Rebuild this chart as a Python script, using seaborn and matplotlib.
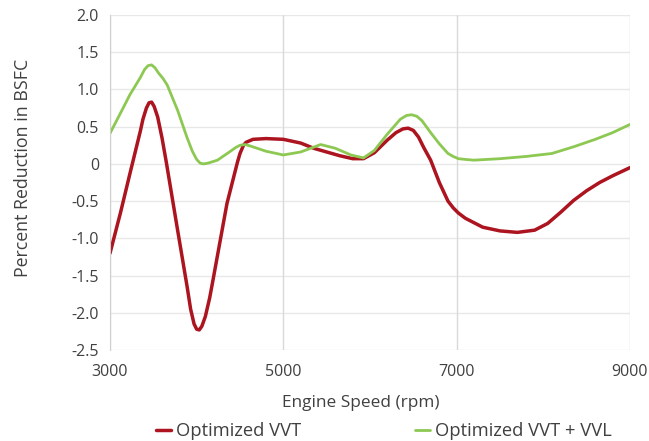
import pandas as pd
import matplotlib.pyplot as plt
import seaborn as sns

# values
vvt_rpm = [3000, 3120, 3230, 3350, 3380, 3420, 3450, 3480, 3510, 3550, 3600, 3650,
           3770, 3890, 3930, 3970, 4000, 4030, 4060, 4100, 4150, 4190, 4350, 4470,
           4500, 4540, 4570, 4650, 4800, 5000, 5200, 5350, 5500, 5650, 5800, 5925,
           6050, 6200, 6300, 6380, 6440, 6500, 6560, 6620, 6700, 6800, 6900, 6960,
           7020, 7100, 7200, 7300, 7500, 7700, 7900, 8050, 8200, 8350, 8500, 8650,
           8800, 9000]
vvt_bsfc = [-1.20, -0.66, -0.13, 0.44, 0.60, 0.75, 0.82, 0.83, 0.77, 0.63, 0.35, 0.02,
            -0.82, -1.65, -1.95, -2.15, -2.22, -2.23, -2.18, -2.05, -1.80, -1.55, -0.53, 0.02,
            0.14, 0.25, 0.29, 0.33, 0.34, 0.33, 0.28, 0.21, 0.16, 0.11, 0.07, 0.07,
            0.15, 0.32, 0.42, 0.47, 0.48, 0.45, 0.36, 0.22, 0.05, -0.25, -0.50, -0.59,
            -0.66, -0.73, -0.79, -0.85, -0.90, -0.92, -0.89, -0.80, -0.65, -0.49, -0.36, -0.25,
            -0.16, -0.05]

vvl_rpm = [3000, 3120, 3230, 3350, 3400, 3440, 3480, 3520, 3560, 3610, 3660, 3780,
           3890, 3950, 4000, 4040, 4080, 4130, 4240, 4390, 4450, 4500, 4560, 4620,
           4800, 5000, 5200, 5430, 5600, 5780, 5925, 6050, 6200, 6350, 6420, 6480,
           6540, 6600, 6700, 6800, 6900, 6960, 7020, 7100, 7200, 7500, 7800, 8100,
           8350, 8600, 8800, 9000]
vvl_bsfc = [0.41, 0.68, 0.93, 1.16, 1.27, 1.32, 1.33, 1.29, 1.22, 1.15, 1.06, 0.72,
            0.35, 0.17, 0.06, 0.01, 0.00, 0.01, 0.05, 0.17, 0.22, 0.25, 0.26, 0.24,
            0.17, 0.12, 0.16, 0.26, 0.21, 0.12, 0.08, 0.18, 0.40, 0.60, 0.65, 0.66,
            0.64, 0.58, 0.42, 0.27, 0.14, 0.10, 0.07, 0.06, 0.05, 0.07, 0.10, 0.14,
            0.23, 0.33, 0.42, 0.53]

series_names = ["Optimized VVT", "Optimized VVT + VVL"]
y_ticks = [2.0, 1.5, 1.0, 0.5, 0, -0.5, -1.0, -1.5, -2.0, -2.5]
y_tick_labels = ["2.0", "1.5", "1.0", "0.5", "0", "-0.5", "-1.0", "-1.5", "-2.0", "-2.5"]
x_ticks = [3000, 5000, 7000, 9000]

df = pd.concat([
    pd.DataFrame({"rpm": vvt_rpm, "bsfc": vvt_bsfc, "series": series_names[0]}),
    pd.DataFrame({"rpm": vvl_rpm, "bsfc": vvl_bsfc, "series": series_names[1]}),
])

sns.set_style("white")
plt.rcParams['font.family'] = ['Open Sans', 'DejaVu Sans']

fig = plt.figure(figsize=(6.49, 4.41), dpi=100)
ax = fig.add_axes([0.1695, 0.2063, 0.8012, 0.7597])

palette = {series_names[0]: "#AC1420", series_names[1]: "#8DC853"}
sns.lineplot(data=df, x="rpm", y="bsfc", hue="series", palette=palette, ax=ax,
             linewidth=2.5, legend=False)
ax.lines[1].set_linewidth(2.0)

ax.set_xlim(3000, 9000)
ax.set_ylim(-2.5, 2.0)
ax.set_xticks(x_ticks)
ax.set_yticks(y_ticks)
ax.set_yticklabels(y_tick_labels)

# grid: faint horizontals, slightly darker verticals
for y in y_ticks:
    ax.axhline(y, color="#e8e8e8", lw=1, zorder=0)
for x in x_ticks:
    ax.axvline(x, color="#d9d9d9", lw=1, zorder=0)
for s in ax.spines.values():
    s.set_visible(False)
ax.spines["left"].set_visible(True)
ax.spines["left"].set_color("#d0d0d0")

ax.tick_params(axis="both", length=0, labelsize=11.5, colors="#404040")
ax.tick_params(axis="x", pad=10)
ax.tick_params(axis="y", pad=8)
ax.set_xlabel("Engine Speed (rpm)", fontsize=12.4, color="#404040")
ax.set_ylabel("Percent Reduction in BSFC", fontsize=12.8, color="#404040")
ax.xaxis.set_label_coords(0.483, -0.134)
ax.yaxis.set_label_coords(-0.15, 0.543)

handles = [plt.Line2D([], [], color=palette[n], lw=2.5 if i == 0 else 2) for i, n in enumerate(series_names)]
fig.legend(handles, series_names, loc="center left", bbox_to_anchor=(0.215, 0.022), ncol=2,
           frameon=False, fontsize=13.2, handlelength=0.8, handletextpad=0.3,
           columnspacing=6.2, labelcolor="#404040")

fig.savefig("out.png", dpi=100)
